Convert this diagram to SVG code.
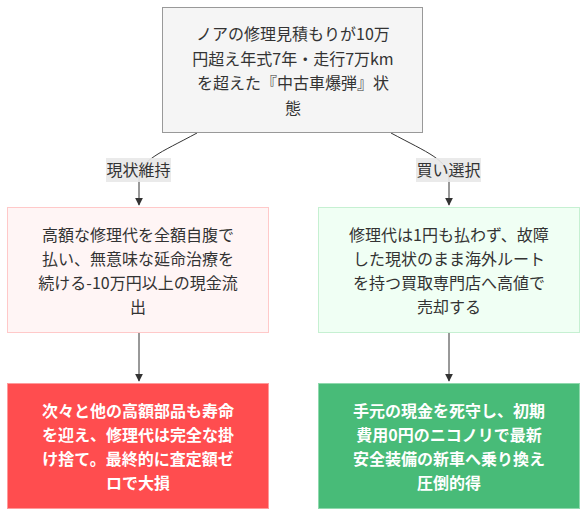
<svg xmlns="http://www.w3.org/2000/svg" width="586" height="518" viewBox="0 0 586 518">
<defs>
<marker id="arr" viewBox="0 0 10 10" refX="9" refY="5" markerWidth="8" markerHeight="8" orient="auto-start-reverse" markerUnits="userSpaceOnUse"><path d="M0,0 L10,5 L0,10 z" fill="#333"/></marker>
<style>
text{font-family:"Noto Sans CJK JP","Noto Sans",sans-serif;font-size:16px;text-anchor:middle;fill:#333}
.w{fill:#fff;font-weight:bold}
.e{fill:none;stroke:#333;stroke-width:1}
.lb{fill:#e8e8e8;opacity:0.9}
</style>
</defs>
<rect width="586" height="518" fill="#fff"/>
<g id="connectors">
<path class="e" d="M197,133 C160,153 139,160 139,180 L139,205" marker-end="url(#arr)"/>
<path class="e" d="M391,133 C428,153 449,160 449,180 L449,205" marker-end="url(#arr)"/>
<path class="e" d="M139,333 L139,381" marker-end="url(#arr)"/>
<path class="e" d="M449,333 L449,381" marker-end="url(#arr)"/>
<rect class="lb" x="106" y="158" width="65" height="24"/>
<text x="138.5" y="176">現状維持</text>
<rect class="lb" x="416" y="158" width="65" height="24"/>
<text x="448.5" y="176">買い選択</text>
</g>
<g id="n0">
<rect x="162.5" y="7.5" width="260" height="125" fill="#f5f5f5" stroke="#999"/>
<text x="293" y="40">ノアの修理見積もりが10万</text>
<text x="293" y="64.5">円超え年式7年・走行7万km</text>
<text x="293" y="89">を超えた『中古車爆弾』状</text>
<text x="293" y="113.5">態</text>
</g>
<g id="n1">
<rect x="7.5" y="207.5" width="261" height="125" fill="#fff5f5" stroke="#ffc9c9"/>
<text x="138" y="241">高額な修理代を全額自腹で</text>
<text x="138" y="265">払い、無意味な延命治療を</text>
<text x="138" y="289">続ける-10万円以上の現金流</text>
<text x="138" y="313">出</text>
</g>
<g id="n2">
<rect x="318.5" y="207.5" width="261" height="125" fill="#f0fff4" stroke="#c6f0d2"/>
<text x="449" y="241">修理代は1円も払わず、故障</text>
<text x="449" y="265">した現状のまま海外ルート</text>
<text x="449" y="289">を持つ買取専門店へ高値で</text>
<text x="449" y="313">売却する</text>
</g>
<g id="n3">
<rect x="7.5" y="383.5" width="261" height="125" fill="#ff4d4f" stroke="#ff9a9b"/>
<text class="w" x="138" y="417">次々と他の高額部品も寿命</text>
<text class="w" x="138" y="441">を迎え、修理代は完全な掛</text>
<text class="w" x="138" y="465">け捨て。最終的に査定額ゼ</text>
<text class="w" x="138" y="489">ロで大損</text>
</g>
<g id="n4">
<rect x="318.5" y="383.5" width="261" height="125" fill="#48bb78" stroke="#8fd9ad"/>
<text class="w" x="449" y="417">手元の現金を死守し、初期</text>
<text class="w" x="449" y="441">費用0円のニコノリで最新</text>
<text class="w" x="449" y="465">安全装備の新車へ乗り換え</text>
<text class="w" x="449" y="489">圧倒的得</text>
</g>
</svg>
